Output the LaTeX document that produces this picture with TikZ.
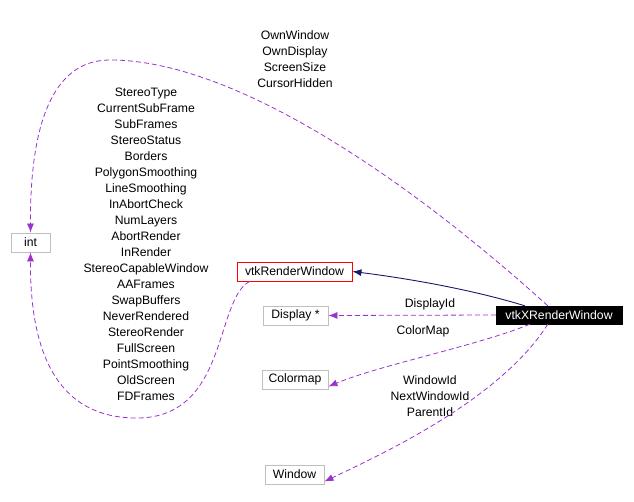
\documentclass[tikz,border=0pt]{standalone}
\usepackage{fontspec}
\setmainfont{Liberation Sans}
\usetikzlibrary{arrows.meta}
\definecolor{edgepurple}{HTML}{9A32CD}
\definecolor{edgenavy}{HTML}{191970}
\definecolor{boxgray}{HTML}{BFBFBF}
\tikzset{
  cls/.style={draw=boxgray, line width=0.9pt, minimum height=19pt, inner sep=0pt, font=\fontsize{12.2}{14}\selectfont},
  main/.style={fill=black, text=white, draw=black, minimum height=18pt, inner sep=0pt, font=\fontsize{12.2}{14}\selectfont},
  lbl/.style={align=center, inner sep=0pt, font=\fontsize{12.2}{16}\selectfont},
  use/.style={draw=edgepurple, line width=0.8pt, dash pattern=on 5pt off 3pt, -{Latex[length=9pt,width=7pt]}},
  inh/.style={draw=edgenavy, line width=0.9pt, -{Latex[length=9pt,width=7pt]}},
}
\begin{document}
\begin{tikzpicture}[x=1pt,y=-1pt]
\useasboundingbox (0,0) rectangle (634,502);
\node[cls, minimum width=39pt] (int) at (30.5,242.5) {int};
\node[cls, draw=red, minimum width=115pt] (rw) at (294.5,271.5) {vtkRenderWindow};
\node[cls, minimum width=65pt] (disp) at (295.5,315.5) {Display *};
\node[main, minimum width=126pt] (xrw) at (559,315) {vtkXRenderWindow};
\node[cls, minimum width=66pt] (cmap) at (295,379.5) {Colormap};
\node[cls, minimum width=59pt] (win) at (294.5,474.5) {Window};

% labels
\node[lbl] (l1) at (295,59) {OwnWindow\\OwnDisplay\\ScreenSize\\CursorHidden};
\node[lbl] (l2) at (146,244) {StereoType\\CurrentSubFrame\\SubFrames\\StereoStatus\\Borders\\PolygonSmoothing\\LineSmoothing\\InAbortCheck\\NumLayers\\AbortRender\\InRender\\StereoCapableWindow\\AAFrames\\SwapBuffers\\NeverRendered\\StereoRender\\FullScreen\\PointSmoothing\\OldScreen\\FDFrames};
\node[lbl] (l3) at (430,304) {DisplayId};
\node[lbl] (l4) at (423,331) {ColorMap};
\node[lbl] (l5) at (430,396) {WindowId\\NextWindowId\\ParentId};

% edges
\draw[inh] ([xshift=29pt]xrw.north west) .. controls (480,292) and (420,280) .. (rw.east);
\draw[use] ([xshift=52pt]xrw.north west) .. controls (420,190) and (240,60) .. (110,60)
  .. controls (50,60) and (30,130) .. (int.north);
\draw[use] ([xshift=13pt]rw.south west) .. controls (215,300) and (228,415) .. (140,418)
  .. controls (50,420) and (30,340) .. (int.south);
\draw[use] (xrw.west) -- (disp.east);
\draw[use] ([xshift=34pt]xrw.south west) .. controls (480,345) and (380,365) .. ([yshift=-7pt]cmap.east);
\draw[use] ([xshift=52pt]xrw.south west) .. controls (500,400) and (380,455) .. ([yshift=-7pt]win.east);
\end{tikzpicture}
\end{document}
